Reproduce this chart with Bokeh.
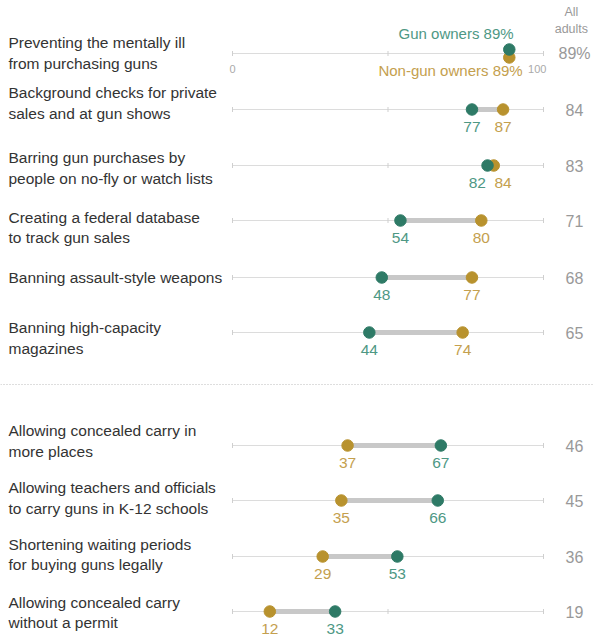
from bokeh.plotting import figure
from bokeh.models import Range1d
from bokeh.core.properties import value
from bokeh.embed import file_html
from bokeh.resources import INLINE

labels = [
    "Preventing the mentally ill\nfrom purchasing guns",
    "Background checks for private\nsales and at gun shows",
    "Barring gun purchases by\npeople on no-fly or watch lists",
    "Creating a federal database\nto track gun sales",
    "Banning assault-style weapons",
    "Banning high-capacity\nmagazines",
    "Allowing concealed carry in\nmore places",
    "Allowing teachers and officials\nto carry guns in K-12 schools",
    "Shortening waiting periods\nfor buying guns legally",
    "Allowing concealed carry\nwithout a permit",
]
gun_owners = [89, 77, 82, 54, 48, 44, 67, 66, 53, 33]
non_gun_owners = [89, 87, 84, 80, 77, 74, 37, 35, 29, 12]
all_adults = [89, 84, 83, 71, 68, 65, 46, 45, 36, 19]

GREEN = "#2e7a66"
GOLD = "#b8922e"
GREEN_T = "#4e9884"
GOLD_T = "#c4a04e"
FONT = "Liberation Sans"

W, H = 594, 635
PX = 3.11  # pixels per percentage point
X0 = 232   # pixel of 0
xs = -X0 / PX
xe = (W - X0) / PX

p = figure(width=W, height=H, output_backend="svg", toolbar_location=None,
           x_range=Range1d(xs, xe), y_range=Range1d(H, 0),
           min_border=0, outline_line_color=None)
p.axis.visible = False
p.grid.visible = False
p.background_fill_color = "white"
p.border_fill_color = "white"

row_y = [53, 109, 165, 220, 277, 332, 445, 500, 556, 611]
label_dy = [-0.5, -6.5, 2.5, 7, 0, 5.5, -4.5, -2.5, -2, 1]

# axis lines
p.segment(x0=[0] * 10, x1=[100] * 10, y0=row_y, y1=row_y, line_color="#dcdcdc", line_width=1)
for t in (0, 50, 100):
    p.segment(x0=[t] * 10, x1=[t] * 10, y0=[y - 2.5 for y in row_y], y1=[y + 2.5 for y in row_y],
              line_color="#cfcfcf", line_width=1)

# connecting bars
p.segment(x0=gun_owners, x1=non_gun_owners, y0=row_y, y1=row_y, line_color="#c8c8c8", line_width=5)

# separator
p.segment(x0=[xs], x1=[xe], y0=[384], y1=[384], line_color="#bdbdbd", line_width=1, line_dash="1 2")

# dots
gy = [row_y[0] - 4] + row_y[1:]
ny = [row_y[0] + 4] + row_y[1:]
p.scatter(x=non_gun_owners, y=ny, size=11.5, fill_color=GOLD, line_color=GOLD)
p.scatter(x=gun_owners, y=gy, size=11.5, fill_color=GREEN, line_color=GREEN)

# row labels
p.text(x=[xs + 8 / PX] * 10, y=[y + d for y, d in zip(row_y, label_dy)], text=labels,
       text_font=value(FONT), text_font_size="15.5px", text_color="#333333",
       text_baseline="middle", text_line_height=1.2)

# value labels (rows 2+), pushed apart when the two dots are close
gx, nx = [], []
for g, n in zip(gun_owners[1:], non_gun_owners[1:]):
    if abs(g - n) < 6:
        s = 1 if n > g else -1
        gx.append(g - s * 3.3)
        nx.append(n + s * 3.0)
    else:
        gx.append(g)
        nx.append(n)
p.text(x=gx, y=[y + 17 for y in row_y[1:]], text=[str(v) for v in gun_owners[1:]],
       text_font=value(FONT), text_font_size="15.5px", text_color=GREEN_T,
       text_align="center", text_baseline="middle")
p.text(x=nx, y=[y + 17 for y in row_y[1:]], text=[str(v) for v in non_gun_owners[1:]],
       text_font=value(FONT), text_font_size="15.5px", text_color=GOLD_T,
       text_align="center", text_baseline="middle")

# first row annotations
p.text(x=[gun_owners[0] + 1.4], y=[row_y[0] - 20], text=["Gun owners %d%%" % gun_owners[0]],
       text_font=value(FONT), text_font_size="15px", text_color=GREEN_T,
       text_align="right", text_baseline="middle")
p.text(x=[non_gun_owners[0] + 4.3], y=[row_y[0] + 17], text=["Non-gun owners %d%%" % non_gun_owners[0]],
       text_font=value(FONT), text_font_size="15px", text_color=GOLD_T,
       text_align="right", text_baseline="middle")
p.text(x=[0, 98], y=[row_y[0] + 15, row_y[0] + 15], text=["0", "100"], text_font=value(FONT),
       text_font_size="11px", text_color="#aaaaaa", text_align="center", text_baseline="middle")

# all adults column
ax = (574 - X0) / PX
p.text(x=[ax - 1], y=[20], text=["All\nadults"], text_font=value(FONT), text_font_size="12.5px",
       text_color="#999999", text_align="center", text_baseline="middle", text_line_height=1.2)
aa = [str(all_adults[0]) + "%"] + [str(v) for v in all_adults[1:]]
p.text(x=[ax] * 10, y=row_y, text=aa, text_font=value(FONT), text_font_size="16px",
       text_color="#999999", text_align="center", text_baseline="middle")

open("out.html", "w").write(file_html(p, INLINE))
